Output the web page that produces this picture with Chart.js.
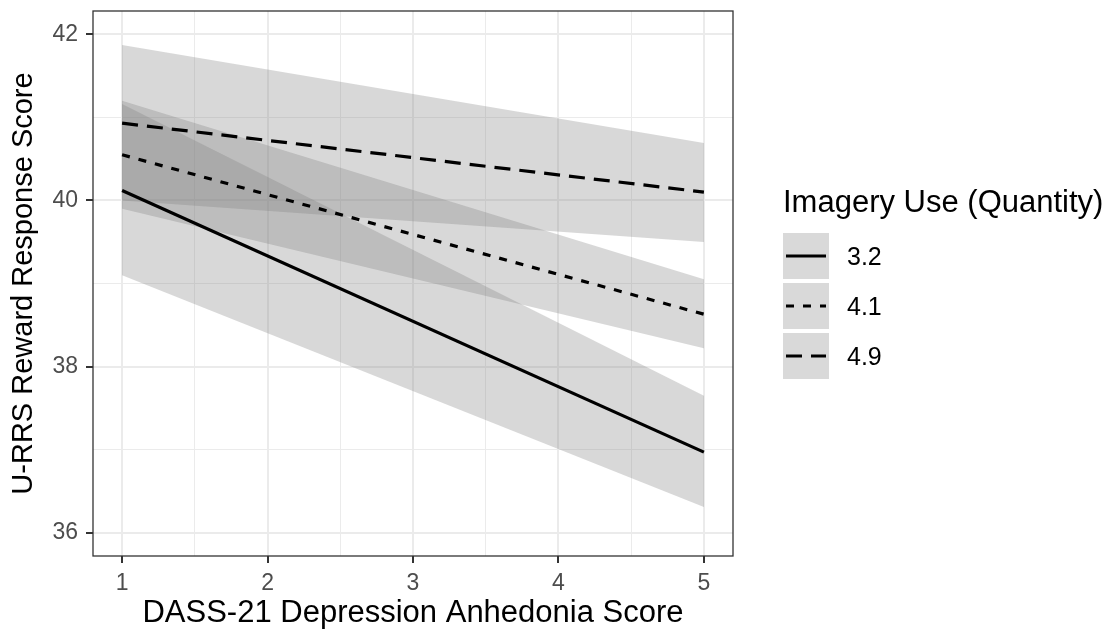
<!DOCTYPE html>
<html>
<head>
<meta charset="utf-8">
<script src="https://cdn.jsdelivr.net/npm/chart.js@4.4.1/dist/chart.umd.min.js"></script>
<style>
  html, body { margin: 0; padding: 0; background: #fff; }
  #wrap { width: 1117px; height: 629px; }
</style>
</head>
<body>
<div id="wrap"><canvas id="myChart" width="1117" height="629"></canvas></div>
<script>
// values
var xVals = [1, 5];
var levels = ['3.2', '4.1', '4.9'];

var fit32 = [40.12, 36.97];
var lo32 = [39.10, 36.31];
var hi32 = [41.16, 37.65];

var fit41 = [40.55, 38.63];
var lo41 = [39.90, 38.22];
var hi41 = [41.20, 39.05];

var fit49 = [40.93, 40.10];
var lo49 = [40.00, 39.50];
var hi49 = [41.87, 40.69];

var xTicks = [1, 1.5, 2, 2.5, 3, 3.5, 4, 4.5, 5];
var yTicks = [36, 37, 38, 39, 40, 41, 42];
var xMajor = [1, 2, 3, 4, 5];
var yMajor = [36, 38, 40, 42];

var fits = [fit32, fit41, fit49];
var los = [lo32, lo41, lo49];
var his = [hi32, hi41, hi49];
var dashes = [[], [8, 9], [16, 9]];

var ribbonFill = 'rgba(127,127,127,0.3)';
var fontFam = '"Liberation Sans", Arial, sans-serif';

function pts(arr) {
    return arr.map(function (v, i) { return { x: xVals[i], y: v }; });
}

var datasets = [];
// ribbons: upper filled down to lower
for (var i = 0; i < levels.length; i++) {
    datasets.push({
        label: 'hi' + levels[i], data: pts(his[i]), fill: '+1',
        backgroundColor: ribbonFill, borderWidth: 0, pointRadius: 0, order: 2
    });
    datasets.push({
        label: 'lo' + levels[i], data: pts(los[i]), fill: false,
        borderWidth: 0, pointRadius: 0, order: 2
    });
}
for (var j = 0; j < levels.length; j++) {
    datasets.push({
        label: levels[j], data: pts(fits[j]), fill: false,
        borderColor: '#000', borderWidth: 3.2, borderDash: dashes[j],
        pointRadius: 0, order: 1
    });
}

var panelAndLegend = {
    id: 'panelAndLegend',
    afterDraw: function (chart) {
        var ctx = chart.ctx, a = chart.chartArea;
        ctx.save();
        // panel border
        ctx.strokeStyle = '#333333';
        ctx.lineWidth = 1.3;
        ctx.strokeRect(a.left, a.top, a.right - a.left, a.bottom - a.top);

        // legend
        ctx.fillStyle = '#000';
        ctx.font = '31px ' + fontFam;
        ctx.textBaseline = 'alphabetic';
        ctx.fillText('Imagery Use (Quantity)', 783, 212);
        for (var k = 0; k < levels.length; k++) {
            var top = 233 + k * 50;
            ctx.fillStyle = '#d9d9d9';
            ctx.fillRect(783, top, 46, 46);
            ctx.strokeStyle = '#000';
            ctx.lineWidth = 3.2;
            ctx.setLineDash(dashes[k]);
            ctx.beginPath();
            ctx.moveTo(786, top + 23);
            ctx.lineTo(826, top + 23);
            ctx.stroke();
            ctx.setLineDash([]);
            ctx.fillStyle = '#000';
            ctx.font = '25px ' + fontFam;
            ctx.textBaseline = 'alphabetic';
            ctx.fillText(levels[k], 847, top + 32);
        }
        ctx.restore();
    }
};

function gridColor(c) { return '#ebebeb'; }

var ctx = document.getElementById('myChart').getContext('2d');
var myChart = new Chart(ctx, {
    type: 'line',
    data: { datasets: datasets },
    options: {
        responsive: false,
        devicePixelRatio: 1,
        animation: false,
        layout: { padding: { left: 0, right: 384, top: 11, bottom: 0 } },
        plugins: { legend: { display: false }, tooltip: { enabled: false } },
        scales: {
            x: {
                type: 'linear', min: 0.8, max: 5.2,
                afterBuildTicks: function (s) { s.ticks = xTicks.map(function (v) { return { value: v }; }); },
                afterFit: function (s) { s.height = 73; s.paddingLeft = 0; s.paddingRight = 0; },
                border: { display: false },
                grid: {
                    color: gridColor,
                    lineWidth: function (c) { return xMajor.indexOf(c.tick.value) >= 0 ? 2 : 1; },
                    tickLength: 7,
                    tickColor: function (c) { return xMajor.indexOf(c.tick.value) >= 0 ? '#333333' : 'rgba(0,0,0,0)'; },
                    tickWidth: 2
                },
                ticks: {
                    autoSkip: false, maxRotation: 0, padding: 7,
                    color: '#4d4d4d', font: { family: fontFam, size: 23 },
                    callback: function (v) { return xMajor.indexOf(v) >= 0 ? String(v) : ''; }
                },
                title: {
                    display: true, text: 'DASS-21 Depression Anhedonia Score',
                    color: '#000', font: { family: fontFam, size: 31, lineHeight: 1 },
                    padding: { top: 0, bottom: 0 }
                }
            },
            y: {
                type: 'linear', min: 35.72, max: 42.28,
                afterBuildTicks: function (s) { s.ticks = yTicks.map(function (v) { return { value: v }; }); },
                afterFit: function (s) { s.width = 93; s.paddingTop = 0; s.paddingBottom = 0; },
                border: { display: false },
                grid: {
                    color: gridColor,
                    lineWidth: function (c) { return yMajor.indexOf(c.tick.value) >= 0 ? 2 : 1; },
                    tickLength: 7,
                    tickColor: function (c) { return yMajor.indexOf(c.tick.value) >= 0 ? '#333333' : 'rgba(0,0,0,0)'; },
                    tickWidth: 2
                },
                ticks: {
                    autoSkip: false, padding: 8,
                    color: '#4d4d4d', font: { family: fontFam, size: 23 },
                    callback: function (v) { return yMajor.indexOf(v) >= 0 ? String(v) : ''; }
                },
                title: {
                    display: true, text: 'U-RRS Reward Response Score',
                    color: '#000', font: { family: fontFam, size: 29, lineHeight: 1 },
                    padding: { top: 9, bottom: 0 }
                }
            }
        }
    },
    plugins: [panelAndLegend]
});
</script>
</body>
</html>
